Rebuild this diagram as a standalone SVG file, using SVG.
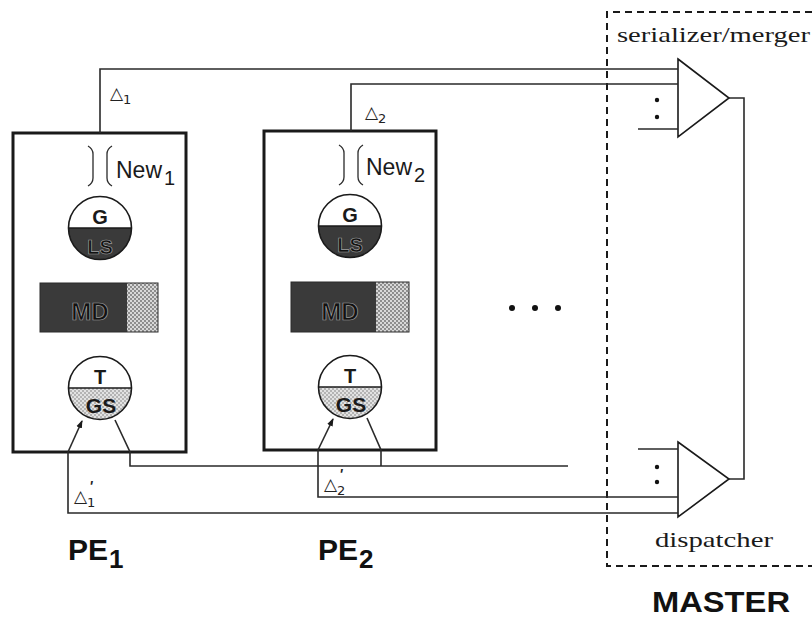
<svg xmlns="http://www.w3.org/2000/svg" width="812" height="619" viewBox="0 0 812 619">
<style>
.box{fill:none;stroke:#1a1a1a;stroke-width:3}
.ln{fill:none;stroke:#2a2a2a;stroke-width:1.6}
.thin{fill:none;stroke:#2a2a2a;stroke-width:1.3}
.dash{fill:none;stroke:#1a1a1a;stroke-width:2;stroke-dasharray:7 5}
.sans{font-family:"Liberation Sans",Arial,sans-serif}
.bold{font-family:"Liberation Sans",Arial,sans-serif;font-weight:bold}
.serif{font-family:"Liberation Serif","Times New Roman",serif}
.dark{fill:#3a3a3a}
.inv{fill:#111;stroke:#a0a0a0;stroke-width:0.7}
.delta{font-family:"DejaVu Sans","Liberation Sans",sans-serif;font-size:17px;fill:#222}
.prime{font-family:"Liberation Sans",Arial,sans-serif;font-style:italic;font-weight:bold;font-size:14px}
</style>
<defs>
<pattern id="stip" width="4" height="4" patternUnits="userSpaceOnUse">
<rect width="4" height="4" fill="#d8d8d8"/>
<circle cx="1" cy="1" r="0.9" fill="#6a6a6a"/>
<circle cx="3" cy="3" r="0.9" fill="#6a6a6a"/>
</pattern>
<pattern id="stip2" width="4" height="4" patternUnits="userSpaceOnUse">
<rect width="4" height="4" fill="#e2e2e2"/>
<circle cx="1" cy="1" r="0.8" fill="#7a7a7a"/>
<circle cx="3" cy="3" r="0.8" fill="#7a7a7a"/>
</pattern>
<marker id="arr" markerWidth="8" markerHeight="8" refX="7" refY="4" orient="auto" markerUnits="userSpaceOnUse">
<path d="M0,1 L8,4 L0,7 Z" fill="#1a1a1a"/>
</marker>
</defs>
<rect width="812" height="619" fill="#ffffff"/>

<g id="pe1">
<rect class="box" x="13" y="133" width="173" height="319"/>
<path class="thin" d="M88,146 Q93,149 93,154 L93,178 Q93,183 88,186"/>
<path class="thin" d="M112,146 Q107,149 107,154 L107,178 Q107,183 112,186"/>
<text class="sans" x="116" y="178" font-size="23" fill="#1a1a1a">New<tspan font-size="20" dx="2" dy="7">1</tspan></text>
<path d="M68.5,228 A31.5,31.5 0 0 0 131.5,228 Z" class="dark"/>
<circle cx="100" cy="228" r="31.5" fill="none" stroke="#1a1a1a" stroke-width="1.6"/>
<line x1="68.5" y1="228" x2="131.5" y2="228" stroke="#1a1a1a" stroke-width="1.6"/>
<text class="bold" x="100" y="224" font-size="20" text-anchor="middle" fill="#1a1a1a">G</text>
<text class="bold inv" x="100" y="254" font-size="20" text-anchor="middle">LS</text>
<rect x="40" y="283" width="87" height="49" class="dark"/>
<rect x="127" y="283" width="31" height="49" fill="url(#stip)"/>
<rect x="40" y="283" width="118" height="49" fill="none" stroke="#2a2a2a" stroke-width="1"/>
<text class="bold inv" x="90" y="320" font-size="24" text-anchor="middle">MD</text>
<path d="M68.5,388 A31.5,31.5 0 0 0 131.5,388 Z" fill="url(#stip2)"/>
<circle cx="100" cy="388" r="31.5" fill="none" stroke="#1a1a1a" stroke-width="1.6"/>
<line x1="68.5" y1="388" x2="131.5" y2="388" stroke="#1a1a1a" stroke-width="1.6"/>
<text class="bold" x="100" y="384" font-size="20" text-anchor="middle" fill="#1a1a1a">T</text>
<text class="bold" x="101" y="413" font-size="21" text-anchor="middle" fill="#1a1a1a">GS</text>
</g>

<g id="pe2">
<rect class="box" x="264" y="131" width="172" height="319"/>
<path class="thin" d="M339,145 Q344,148 344,153 L344,177 Q344,182 339,185"/>
<path class="thin" d="M363,145 Q358,148 358,153 L358,177 Q358,182 363,185"/>
<text class="sans" x="366" y="175" font-size="23" fill="#1a1a1a">New<tspan font-size="20" dx="2" dy="7">2</tspan></text>
<path d="M318.5,226 A31.5,31.5 0 0 0 381.5,226 Z" class="dark"/>
<circle cx="350" cy="226" r="31.5" fill="none" stroke="#1a1a1a" stroke-width="1.6"/>
<line x1="318.5" y1="226" x2="381.5" y2="226" stroke="#1a1a1a" stroke-width="1.6"/>
<text class="bold" x="350" y="222" font-size="20" text-anchor="middle" fill="#1a1a1a">G</text>
<text class="bold inv" x="350" y="252" font-size="20" text-anchor="middle">LS</text>
<rect x="291" y="282" width="85" height="50" class="dark"/>
<rect x="376" y="282" width="33" height="50" fill="url(#stip)"/>
<rect x="291" y="282" width="118" height="50" fill="none" stroke="#2a2a2a" stroke-width="1"/>
<text class="bold inv" x="340" y="320" font-size="24" text-anchor="middle">MD</text>
<path d="M318.5,387 A31.5,31.5 0 0 0 381.5,387 Z" fill="url(#stip2)"/>
<circle cx="350" cy="387" r="31.5" fill="none" stroke="#1a1a1a" stroke-width="1.6"/>
<line x1="318.5" y1="387" x2="381.5" y2="387" stroke="#1a1a1a" stroke-width="1.6"/>
<text class="bold" x="350" y="383" font-size="20" text-anchor="middle" fill="#1a1a1a">T</text>
<text class="bold" x="351" y="412" font-size="21" text-anchor="middle" fill="#1a1a1a">GS</text>
</g>

<g id="ellipsis" fill="#111">
<circle cx="512" cy="308" r="3"/>
<circle cx="535" cy="308" r="3"/>
<circle cx="558" cy="308" r="3"/>
</g>

<g id="master">
<path class="dash" d="M812,12 L607,12 L607,566 L812,566"/>
<text class="serif" x="617" y="42" font-size="22" textLength="193" lengthAdjust="spacingAndGlyphs" fill="#1a1a1a">serializer/merger</text>
<text class="serif" x="655" y="547" font-size="22" textLength="118" lengthAdjust="spacingAndGlyphs" fill="#1a1a1a">dispatcher</text>
<text class="bold" x="652" y="612" font-size="29" textLength="138" lengthAdjust="spacingAndGlyphs" fill="#111">MASTER</text>
</g>

<g id="serializer">
<path d="M678,59 L729,98 L678,137 Z" fill="#fff" stroke="#1a1a1a" stroke-width="1.6"/>
<circle cx="657" cy="100" r="2.2" fill="#111"/>
<circle cx="657" cy="117" r="2.2" fill="#111"/>
</g>

<g id="dispatcher">
<path d="M678,442 L729,479 L678,517 Z" fill="#fff" stroke="#1a1a1a" stroke-width="1.6"/>
<circle cx="657" cy="467" r="2.2" fill="#111"/>
<circle cx="657" cy="482" r="2.2" fill="#111"/>
</g>

<g id="connectors">
<path class="ln" d="M100,133 L100,69 L678,69"/>
<path class="ln" d="M351,131 L351,84 L678,84"/>
<path class="ln" d="M638,129 L678,129"/>
<path class="ln" d="M729,98 L744,98 L744,479 L729,479"/>
<path class="ln" d="M638,449 L678,449"/>
<path class="ln" d="M68,452 L82,421" marker-end="url(#arr)"/>
<path class="ln" d="M68,452 L68,513 L678,513"/>
<path class="ln" d="M115,420 L130,452 L130,466 L568,466"/>
<path class="ln" d="M318,450 L333,419" marker-end="url(#arr)"/>
<path class="ln" d="M318,450 L318,497 L678,497"/>
<path class="ln" d="M367,418 L381,450 L381,466"/>
</g>

<g id="labels">
<text class="delta" x="110" y="99">△<tspan font-size="13" dy="5">1</tspan></text>
<text class="delta" x="365" y="118">△<tspan font-size="13" dy="5">2</tspan></text>
<text class="delta" x="74" y="502">△<tspan font-size="13" dy="5">1</tspan><tspan class="prime" dx="-6" dy="-16">'</tspan></text>
<text class="delta" x="324" y="490">△<tspan font-size="13" dy="5">2</tspan><tspan class="prime" dx="-6" dy="-16">'</tspan></text>
<text class="bold" x="68" y="560" font-size="30" fill="#111">PE<tspan font-size="26" dx="1" dy="8">1</tspan></text>
<text class="bold" x="318" y="560" font-size="30" fill="#111">PE<tspan font-size="26" dx="1" dy="8">2</tspan></text>
</g>
</svg>
